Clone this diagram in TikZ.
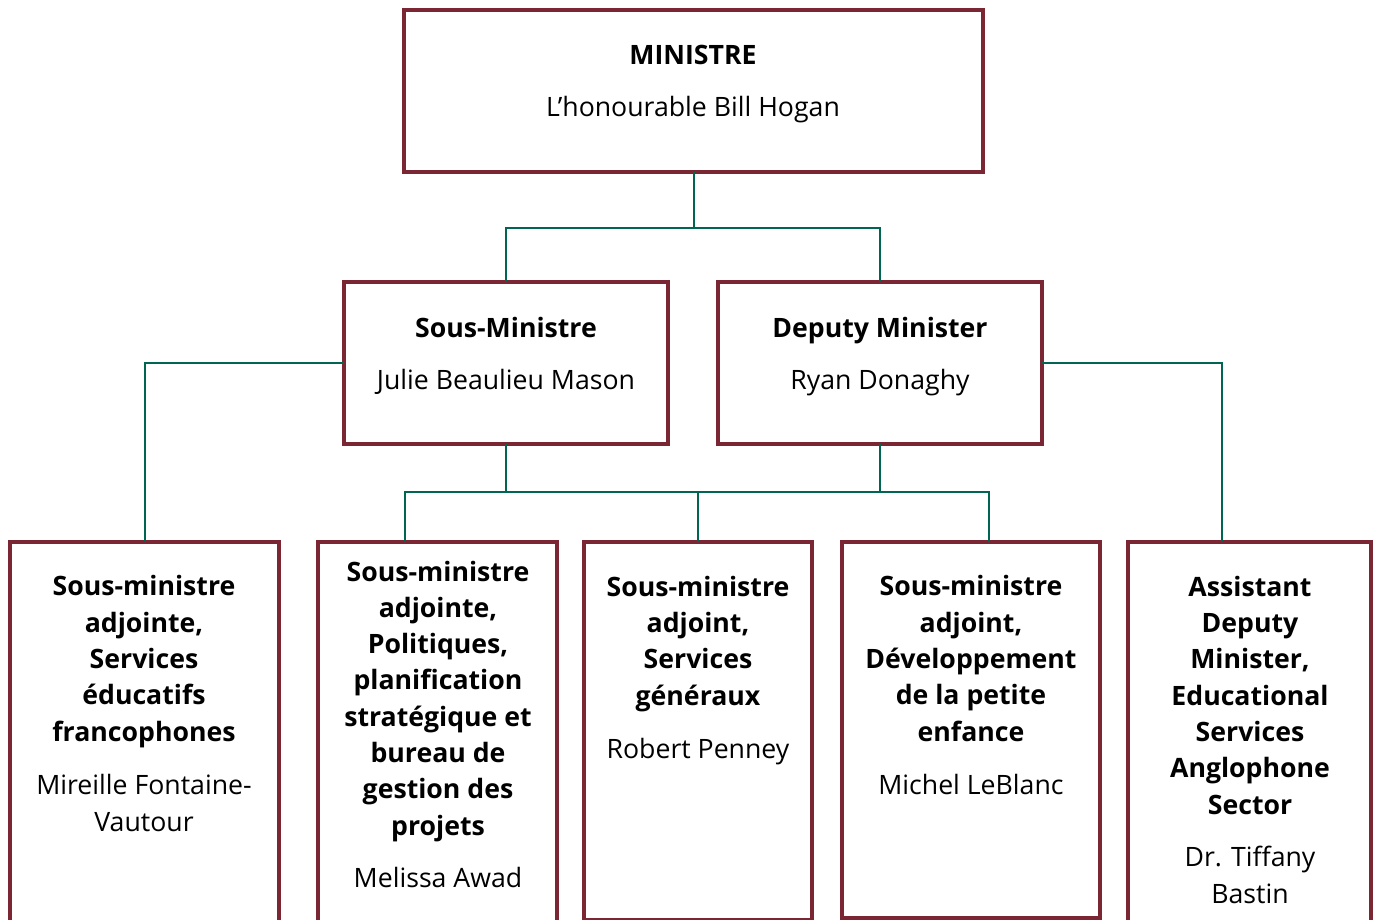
\documentclass[tikz,border=0pt]{standalone}
\usepackage{fontspec}
\setmainfont{Open Sans}
\usetikzlibrary{calc}
\definecolor{boxred}{RGB}{123,38,51}
\definecolor{linegreen}{RGB}{0,102,82}
\begin{document}
\begin{tikzpicture}[x=0.75pt,y=-0.75pt,
  orgbox/.style={draw=boxred,line width=3.3pt,fill=white,anchor=north west,inner sep=0pt,outer sep=0pt},
  conn/.style={draw=linegreen,line width=1.5pt},
  ttl/.style={font=\fontsize{20}{27.2}\selectfont\bfseries,align=center,anchor=base,inner sep=0pt},
  nm/.style={font=\fontsize{20}{27.2}\selectfont,align=center,anchor=base,inner sep=0pt}]
\useasboundingbox (0,0) rectangle (1377,920);
\clip (0,0) rectangle (1377,920);
\fill[white] (0,0) rectangle (1377,920);
% boxes
\node[orgbox,minimum width=434.25pt,minimum height=121.5pt] (m) at (404,10) {};
\node[orgbox,minimum width=243pt,minimum height=121.5pt] (sm) at (344,282) {};
\node[orgbox,minimum width=243pt,minimum height=121.5pt] (dm) at (718,282) {};
\node[orgbox,minimum width=201.75pt,minimum height=300pt] (b1) at (10,542) {};
\node[orgbox,minimum width=179.25pt,minimum height=300pt] (b2) at (318,542) {};
\node[orgbox,minimum width=171pt,minimum height=284pt] (b3) at (584,542) {};
\node[orgbox,minimum width=193.5pt,minimum height=282pt] (b4) at (842,542) {};
\node[orgbox,minimum width=182.25pt,minimum height=300pt] (b5) at (1128,542) {};
% connectors
\draw[conn] (m.south) -- ++(0,56) coordinate (mj) -| (sm.north);
\draw[conn] (mj) -| (dm.north);
\draw[conn] (sm.west) -| (b1.north);
\draw[conn] (dm.east) -| ($(b5.north west)!0.387!(b5.north east)$);
\draw[conn] (sm.south) -- ++(0,48) coordinate (sj) -| ($(b2.north west)!0.364!(b2.north east)$);
\draw[conn] (sj) -| (b3.north);
\draw[conn] (dm.south) -- ++(0,48) coordinate (dj) -| ($(b4.north west)!0.57!(b4.north east)$);
\draw[conn] (dj) -| (b3.north);
% texts (anchor = baseline of last line)
\node[ttl] (mt) at (693,65) {MINISTRE};
\node[nm] (mn) at (693,117) {L’honourable Bill Hogan};
\node[ttl] (smt) at (506,337) {Sous-Ministre};
\node[nm] (smn) at (506,389) {Julie Beaulieu Mason};
\node[ttl] (dmt) at (880,337) {Deputy Minister};
\node[nm] (dmn) at (880,389) {Ryan Donaghy};
\node[ttl] (b1t) at (144,741) {Sous-ministre\\adjointe,\\Services\\éducatifs\\francophones};
\node[nm] (b1n) at (144,831) {Mireille Fontaine-\\Vautour};
\node[ttl] (b2t) at (438,835) {Sous-ministre\\adjointe,\\Politiques,\\planification\\stratégique et\\bureau de\\gestion des\\projets};
\node[nm] (b2n) at (438,887) {Melissa Awad};
\node[ttl] (b3t) at (698,705) {Sous-ministre\\adjoint,\\Services\\généraux};
\node[nm] (b3n) at (698,758) {Robert Penney};
\node[ttl] (b4t) at (971,741) {Sous-ministre\\adjoint,\\Développement\\de la petite\\enfance};
\node[nm] (b4n) at (971,794) {Michel LeBlanc};
\node[ttl] (b5t) at (1250,814) {Assistant\\Deputy\\Minister,\\Educational\\Services\\Anglophone\\Sector};
\node[nm] (b5n) at (1250,903) {Dr. Tiffany\\Bastin};
\end{tikzpicture}
\end{document}
